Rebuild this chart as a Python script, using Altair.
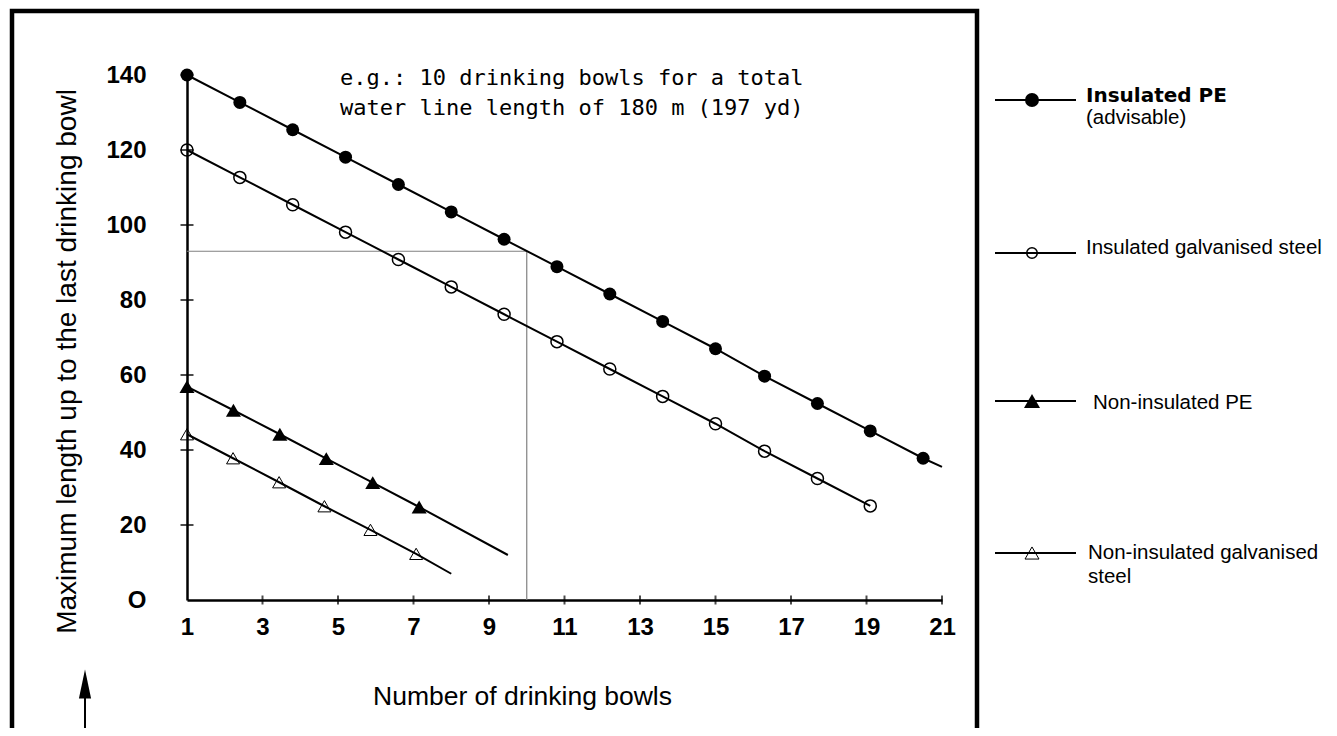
import json
import altair as alt
import pandas as pd

# ---------------- data ----------------
series_names = [
    "Insulated PE",
    "Insulated galvanised steel",
    "Non-insulated PE",
    "Non-insulated galvanised steel",
]

# Insulated PE (filled circles)
pe_x = [1.0, 2.4, 3.8, 5.2, 6.6, 8.0, 9.4, 10.8, 12.2, 13.6, 15.0, 16.3, 17.7, 19.1, 20.5]
pe_y = [140.0, 132.7, 125.4, 118.1, 110.8, 103.5, 96.2, 88.9, 81.6, 74.3, 67.0, 59.7, 52.4, 45.1, 37.8]

# Insulated galvanised steel (open circles)
gs_x = [1.0, 2.4, 3.8, 5.2, 6.6, 8.0, 9.4, 10.8, 12.2, 13.6, 15.0, 16.3, 17.7, 19.1]
gs_y = [120.0, 112.7, 105.4, 98.1, 90.8, 83.5, 76.2, 68.9, 61.6, 54.3, 47.0, 39.7, 32.4, 25.1]

# Non-insulated PE (filled triangles)
npe_x = [1.0, 2.23, 3.46, 4.69, 5.92, 7.15]
npe_y = [56.9, 50.6, 44.2, 37.7, 31.3, 24.8]

# Non-insulated galvanised steel (open triangles)
ngs_x = [1.0, 2.22, 3.44, 4.64, 5.86, 7.07]
ngs_y = [44.2, 37.8, 31.4, 25.0, 18.7, 12.3]

# where each drawn line stops beyond its last marker (None = stops at last marker)
pe_line_end = [21.0, 35.5]
gs_line_end = None
npe_line_end = [9.5, 12.0]
ngs_line_end = [8.0, 7.0]

# worked example (grey guide lines)
example_bowls = 10
example_length = 93

x_ticks = [1, 3, 5, 7, 9, 11, 13, 15, 17, 19, 21]
y_ticks = [0, 20, 40, 60, 80, 100, 120, 140]
y_tick_labels = ["O", "20", "40", "60", "80", "100", "120", "140"]

annotation_lines = [
    "e.g.: 10 drinking bowls for a total",
    "water line length of 180 m (197 yd)",
]
legend_texts = [
    ["Insulated PE"],
    ["Insulated galvanised steel"],
    ["Non-insulated PE"],
    ["Non-insulated galvanised", "steel"],
]
legend_subtext = "(advisable)"
x_title = "Number of drinking bowls"
y_title = "Maximum length up to the last drinking bowl"

# ---------------- tables ----------------
xs = [pe_x, gs_x, npe_x, ngs_x]
ys = [pe_y, gs_y, npe_y, ngs_y]
ends = [pe_line_end, gs_line_end, npe_line_end, ngs_line_end]

pts_rows, line_rows = [], []
for name, sx, sy, end in zip(series_names, xs, ys, ends):
    for i, (a, b) in enumerate(zip(sx, sy)):
        pts_rows.append({"series": name, "x": a, "y": b})
        line_rows.append({"series": name, "x": a, "y": b, "o": i})
    if end is not None:
        line_rows.append({"series": name, "x": end[0], "y": end[1], "o": len(sx)})
pts = pd.DataFrame(pts_rows)
lines = pd.DataFrame(line_rows)

guides = pd.DataFrame([
    {"x": x_ticks[0], "x2": example_bowls, "y": example_length, "y2": example_length},
    {"x": example_bowls, "x2": example_bowls, "y": y_ticks[0], "y2": example_length},
])
xt = pd.DataFrame({"x": x_ticks[1:], "y": [y_ticks[0]] * (len(x_ticks) - 1)})
yt = pd.DataFrame({"x": [x_ticks[0]] * (len(y_ticks) - 1), "y": y_ticks[1:]})

# ---------------- layout constants (pixels) ----------------
W, H = 755, 525
FONT = "Liberation Sans"
label_expr = f"{json.dumps(y_tick_labels)}[indexof({json.dumps(y_ticks)}, datum.value)]"

X = alt.X(
    "x:Q",
    scale=alt.Scale(domain=[1, 21], nice=False, zero=False),
    axis=alt.Axis(
        values=x_ticks, title=x_title, grid=False, ticks=False, tickSize=0,
        domainColor="black", domainWidth=2.5, labelColor="black",
        labelFont=FONT, labelFontSize=24, labelFontWeight="bold", labelPadding=15,
        labelFlush=False, labelOverlap=False,
        titleFont=FONT, titleFontSize=26.5, titleFontWeight="normal", titleColor="black",
        titleX=335, titleY=104, titleAlign="center", titleBaseline="alphabetic",
    ),
)
Y = alt.Y(
    "y:Q",
    scale=alt.Scale(domain=[0, 140], nice=False, zero=False),
    axis=alt.Axis(
        values=y_ticks, labelExpr=label_expr, title=y_title, grid=False, ticks=False,
        tickSize=0, domainColor="black", domainWidth=2.5, labelColor="black",
        labelFont=FONT, labelFontSize=24, labelFontWeight="bold", labelPadding=41,
        labelFlush=False, labelOverlap=False,
        titleFont=FONT, titleFontSize=28, titleFontWeight="normal", titleColor="black",
        titleAngle=270, titleX=-112, titleY=286, titleAlign="center",
        titleBaseline="alphabetic",
    ),
)

one = alt.Data(values=[{"k": 0}])
layers = []

# frame
layers.append(alt.Chart(one).mark_rect(fillOpacity=0, stroke="black", strokeWidth=4.5).encode(
    x=alt.value(-175), x2=alt.value(790), y=alt.value(-64), y2=alt.value(720)))

# grey guide lines
layers.append(alt.Chart(guides).mark_rule(color="#808080", strokeWidth=1.2).encode(
    x=X, x2="x2:Q", y=Y, y2="y2:Q"))

# series lines
layers.append(alt.Chart(lines).mark_line(color="black", strokeWidth=2).encode(
    x=X, y=Y, detail="series:N", order="o:Q"))

# axis ticks crossing the axis lines
layers.append(alt.Chart(xt).mark_tick(orient="vertical", size=9, thickness=2, color="black").encode(x=X, y=Y))
layers.append(alt.Chart(yt).mark_tick(orient="horizontal", size=13, thickness=2, color="black").encode(x=X, y=Y))

styles = [
    dict(shape="circle", filled=True, fill="black", size=169),
    dict(shape="circle", filled=False, stroke="black", strokeWidth=1.5, size=144),
    dict(shape="triangle-up", filled=True, fill="black", size=225),
    dict(shape="triangle-up", filled=False, stroke="black", strokeWidth=1, size=169),
]
for name, st in zip(series_names, styles):
    d = pts[pts.series == name]
    layers.append(alt.Chart(d).mark_point(opacity=1, **st).encode(x=X, y=Y))

# annotation
layers.append(alt.Chart(one).mark_text(
    font="DejaVu Sans Mono", fontSize=22, align="left", baseline="alphabetic",
    lineHeight=30, color="black").encode(
    x=alt.value(153), y=alt.value(10), text=alt.value(annotation_lines)))

# legend
leg_line_y = [25, 178, 326, 478]
leg_text_x = [899, 899, 906, 901]
leg_text_y = [27, 179, 334, 484]
leg_sizes = [196, 110, 256, 196]
for i, (st, ly) in enumerate(zip(styles, leg_line_y)):
    layers.append(alt.Chart(one).mark_rule(color="black", strokeWidth=2).encode(
        x=alt.value(808), x2=alt.value(889), y=alt.value(ly)))
    st2 = dict(st)
    st2["size"] = leg_sizes[i]
    layers.append(alt.Chart(one).mark_point(opacity=1, **st2).encode(
        x=alt.value(845), y=alt.value(ly)))
    bold = i == 0
    layers.append(alt.Chart(one).mark_text(
        font="DejaVu Sans" if bold else FONT, fontSize=20 if bold else 20.5,
        fontWeight="bold" if bold else "normal", align="left", baseline="alphabetic",
        lineHeight=24, color="black").encode(
        x=alt.value(leg_text_x[i]), y=alt.value(leg_text_y[i]),
        text=alt.value(legend_texts[i] if len(legend_texts[i]) > 1 else legend_texts[i][0])))
layers.append(alt.Chart(one).mark_text(
    font=FONT, fontSize=20.5, align="left", baseline="alphabetic", color="black").encode(
    x=alt.value(899), y=alt.value(49), text=alt.value(legend_subtext)))

# arrow bottom-left
layers.append(alt.Chart(one).mark_rule(color="black", strokeWidth=2).encode(
    x=alt.value(-102), y=alt.value(622), y2=alt.value(720)))
layers.append(alt.Chart(one).mark_point(
    shape="M0,-1L0.42,1L-0.42,1Z", filled=True, fill="black", opacity=1, size=841).encode(
    x=alt.value(-102), y=alt.value(609)))

chart = alt.layer(*layers).properties(
    width=W, height=H,
    autosize=alt.AutoSizeParams(type="none"),
    padding={"left": 179, "top": 67, "right": 387, "bottom": 128},
    background="white",
).configure_view(strokeWidth=0)

chart.save("out.html", embed_options={"renderer": "svg", "actions": False})
